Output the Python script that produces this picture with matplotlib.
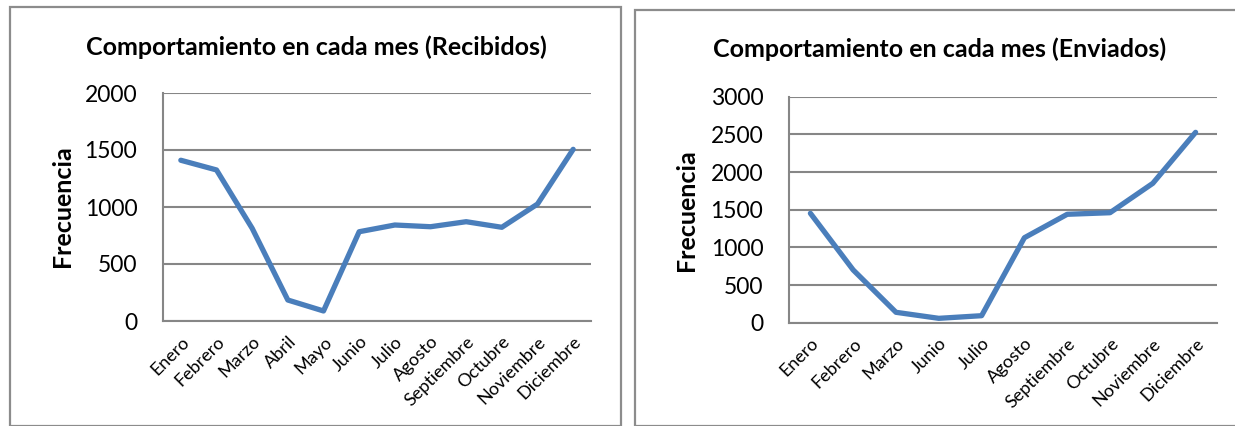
import matplotlib
matplotlib.use("Agg")
import matplotlib.pyplot as plt
from matplotlib.patches import Rectangle

plt.rcParams["font.family"] = ["Lato", "DejaVu Sans"]

meses_rec = ["Enero", "Febrero", "Marzo", "Abril", "Mayo", "Junio", "Julio",
             "Agosto", "Septiembre", "Octubre", "Noviembre", "Diciembre"]
recibidos = [1410, 1325, 813, 184, 88, 783, 842, 827, 871, 822, 1026, 1506]

meses_env = ["Enero", "Febrero", "Marzo", "Junio", "Julio", "Agosto",
             "Septiembre", "Octubre", "Noviembre", "Diciembre"]
enviados = [1452, 700, 138, 58, 93, 1128, 1439, 1460, 1850, 2527]

W, H = 1235, 426
LINE = "#4a7ebb"
GRID = "#868686"


def panel(fig, rect, meses, vals, ymax, title, title_xy, ylabel_xy):
    ax = fig.add_axes(rect)
    x = range(len(meses))
    ax.plot(x, vals, color=LINE, lw=3.8, solid_capstyle="round", solid_joinstyle="round", zorder=3)
    ax.set_xlim(-0.5, len(meses) - 0.5)
    ax.set_ylim(0, ymax)
    ax.set_yticks(range(0, ymax + 1, 500))
    ax.yaxis.grid(True, color=GRID, lw=1.5)
    ax.set_axisbelow(True)
    for s in ("top", "right"):
        ax.spines[s].set_visible(False)
    for s in ("left", "bottom"):
        ax.spines[s].set_color(GRID)
        ax.spines[s].set_linewidth(1.5)
    ax.tick_params(length=0, labelsize=16.5, pad=18.5)
    ax.set_xticks(list(x))
    ax.set_xticklabels(meses, rotation=45, ha="right", rotation_mode="anchor", fontsize=13)
    ax.tick_params(axis="x", pad=9)
    fig.text(title_xy[0] / W, 1 - title_xy[1] / H, title, ha="center", va="center",
             fontsize=18, fontweight="bold")
    fig.text(ylabel_xy[0] / W, 1 - ylabel_xy[1] / H, "Frecuencia", rotation=90,
             ha="center", va="center", fontsize=18, fontweight="bold")
    return ax


fig = plt.figure(figsize=(W / 100, H / 100), dpi=100)

# chart frames
fig.patches.append(Rectangle((10 / W, 0), 611 / W, 1 - 7 / H, transform=fig.transFigure,
                             fill=False, ec="#8c8c8c", lw=1.6))
fig.patches.append(Rectangle((635 / W, 0), 700 / W, 1 - 10 / H, transform=fig.transFigure,
                             fill=False, ec="#8c8c8c", lw=1.6))

panel(fig, [163 / W, 1 - 321 / H, 428 / W, 228 / H], meses_rec, recibidos, 2000,
      "Comportamiento en cada mes (Recibidos)", (316, 47), (62, 206))
panel(fig, [789 / W, 1 - 322.7 / H, 428 / W, 226 / H], meses_env, enviados, 3000,
      "Comportamiento en cada mes (Enviados)", (940, 49), (687, 210))

fig.savefig("out.png", dpi=100)
